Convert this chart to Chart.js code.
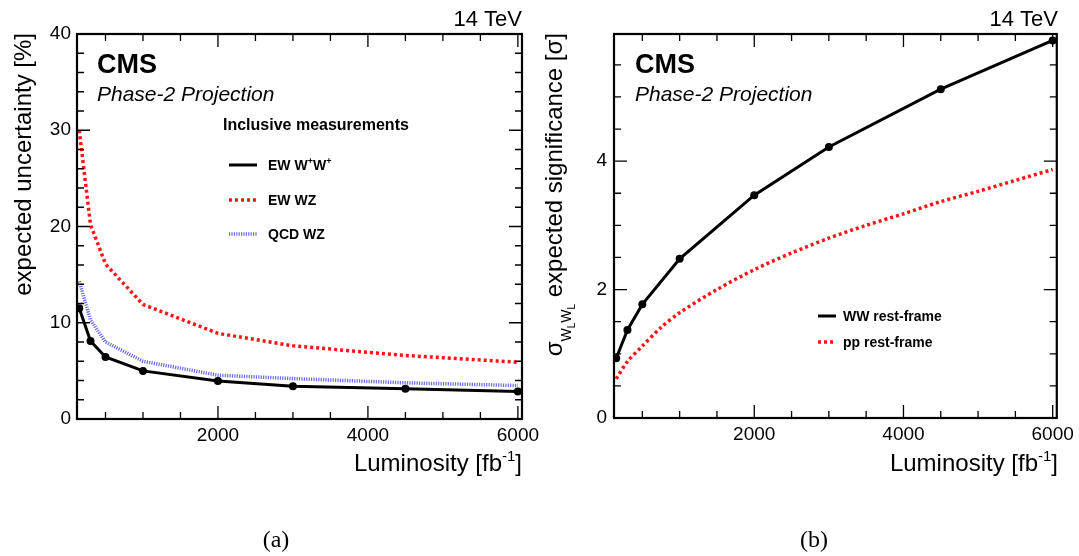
<!DOCTYPE html>
<html>
<head>
<meta charset="utf-8">
<script src="https://cdn.jsdelivr.net/npm/chart.js@4.4.0/dist/chart.umd.min.js"></script>
<style>
  body { margin: 0; background: #fff; }
  #wrap { position: relative; width: 1079px; height: 556px; }
  canvas { position: absolute; left: 0; top: 0; }
</style>
</head>
<body>
<div id="wrap">
  <canvas id="g1" width="1079" height="556"></canvas>
  <canvas id="g2" width="1079" height="556"></canvas>
</div>
<script>
// luminosity points [fb^-1]
var lumi = [150, 300, 500, 1000, 2000, 3000, 4500, 6000];

// (a) expected uncertainty [%]
var ewWpWp = [11.5, 8.1, 6.45, 5.0, 3.95, 3.4, 3.15, 2.85];
var ewWZ = [30.0, 20.2, 16.1, 11.9, 8.9, 7.6, 6.6, 5.9];
var qcdWZ = [14.3, 10.3, 8.0, 6.0, 4.55, 4.2, 3.76, 3.48];

// (b) expected significance [sigma]
var wwRest = [0.93, 1.37, 1.77, 2.48, 3.47, 4.22, 5.12, 5.88];
var ppLumi = [150, 300, 500, 750, 1000, 1500, 2000, 2500, 3000, 3500, 4000, 4500, 5000, 5500, 6000];
var ppRest = [0.61, 0.88, 1.12, 1.41, 1.64, 2.0, 2.31, 2.57, 2.8, 3.0, 3.18, 3.37, 3.53, 3.7, 3.87];

var xTicks = [2000, 4000, 6000];
var yTicksA = [0, 10, 20, 30, 40];
var yTicksB = [0, 2, 4];

var SANS = '"Liberation Sans", Arial, Helvetica, sans-serif';
var RED = 'rgb(255,20,20)';
var BLUE = 'rgb(105,105,235)';

function pts(xs, ys) {
  return xs.map(function (x, i) { return { x: x, y: ys[i] }; });
}

function txt(ctx, s, x, y, font, align, base) {
  ctx.font = font;
  ctx.textAlign = align || 'left';
  ctx.textBaseline = base || 'alphabetic';
  ctx.fillText(s, x, y);
}

// frame with inward ticks on all four sides, ROOT style
function drawFrame(chart, yMinor, yMajor) {
  var ctx = chart.ctx, a = chart.chartArea, xs = chart.scales.x, ys = chart.scales.y;
  ctx.save();
  ctx.strokeStyle = '#000';
  ctx.lineWidth = 1.3;
  ctx.beginPath();
  for (var v = 500; v < xs.max; v += 500) {
    var px = xs.getPixelForValue(v);
    var len = v % 2000 === 0 ? 13 : 7;
    ctx.moveTo(px, a.bottom); ctx.lineTo(px, a.bottom - len);
    ctx.moveTo(px, a.top); ctx.lineTo(px, a.top + len);
  }
  var n = Math.round(yMajor / yMinor);
  for (var i = 1; i * yMinor < ys.max - 1e-6; i++) {
    var py = ys.getPixelForValue(i * yMinor);
    var l = i % n === 0 ? 13 : 7;
    ctx.moveTo(a.left, py); ctx.lineTo(a.left + l, py);
    ctx.moveTo(a.right, py); ctx.lineTo(a.right - l, py);
  }
  ctx.stroke();
  ctx.lineWidth = 2.2;
  ctx.strokeRect(a.left, a.top, a.width, a.height);
  ctx.restore();
}

function legendLine(ctx, x0, x1, y, color, width, dash) {
  ctx.save();
  ctx.strokeStyle = color;
  ctx.lineWidth = width;
  ctx.setLineDash(dash);
  ctx.beginPath();
  ctx.moveTo(x0, y); ctx.lineTo(x1, y);
  ctx.stroke();
  ctx.restore();
}

function xTitle(ctx, right, base) {
  var big = '24px ' + SANS, small = '15px ' + SANS;
  ctx.font = big;
  var w1 = ctx.measureText('Luminosity [fb').width;
  var w3 = ctx.measureText(']').width;
  ctx.font = small;
  var w2 = ctx.measureText('-1').width;
  var x = right - w1 - w2 - w3;
  txt(ctx, 'Luminosity [fb', x, base, big);
  txt(ctx, '-1', x + w1, base - 10, small);
  txt(ctx, ']', x + w1 + w2, base, big);
}

function plain(v) { return String(v); }

function makeScales(ymax, yTicks, yWidth, yPad) {
  return {
    x: {
      type: 'linear', min: 120, max: 6055,
      grid: { display: false, drawTicks: false },
      border: { display: false },
      ticks: { font: { family: SANS, size: 19 }, color: '#000', padding: 5, maxRotation: 0, callback: plain },
      afterBuildTicks: function (s) { s.ticks = xTicks.map(function (v) { return { value: v }; }); },
      afterFit: function (s) { s.height = 40; }
    },
    y: {
      type: 'linear', min: 0, max: ymax,
      grid: { display: false, drawTicks: false },
      border: { display: false },
      ticks: { font: { family: SANS, size: 19 }, color: '#000', padding: yPad, callback: plain },
      afterBuildTicks: function (s) { s.ticks = yTicks.map(function (v) { return { value: v }; }); },
      afterFit: function (s) { s.width = yWidth; }
    }
  };
}

var common = {
  responsive: false,
  animation: false,
  devicePixelRatio: 1,
  plugins: { legend: { display: false }, tooltip: { enabled: false } }
};

var g1 = document.getElementById('g1').getContext('2d');
var myG1 = new Chart(g1, {
  type: 'line',
  data: {
    datasets: [{
      label: 'EW WZ',
      data: pts(lumi, ewWZ),
      borderColor: RED, borderWidth: 3.5, borderDash: [3, 3],
      pointRadius: 0, tension: 0
    }, {
      label: 'QCD WZ',
      data: pts(lumi, qcdWZ),
      borderColor: BLUE, borderWidth: 3.5, borderDash: [1.2, 1.2],
      pointRadius: 0, tension: 0
    }, {
      label: 'EW W+W+',
      data: pts(lumi, ewWpWp),
      borderColor: '#000', borderWidth: 3,
      pointRadius: 4, pointBackgroundColor: '#000', pointBorderWidth: 0, tension: 0
    }]
  },
  options: Object.assign({}, common, {
    layout: { padding: { left: 0, right: 1079 - 522, top: 34, bottom: 556 - 419 - 40 } },
    scales: makeScales(40, yTicksA, 77, 6)
  }),
  plugins: [{
    id: 'decorA',
    afterDatasetsDraw: function (chart) { drawFrame(chart, 2, 10); },
    afterDraw: function (chart) {
      var ctx = chart.ctx;
      ctx.save();
      ctx.fillStyle = '#000';
      txt(ctx, '14 TeV', 522, 26, '22px ' + SANS, 'right');
      txt(ctx, 'CMS', 97, 73, 'bold 27px ' + SANS);
      txt(ctx, 'Phase-2 Projection', 97, 101, 'italic 21px ' + SANS);
      txt(ctx, 'Inclusive measurements', 223, 130, 'bold 16px ' + SANS);

      legendLine(ctx, 229, 257, 165, '#000', 3, []);
      legendLine(ctx, 229, 257, 200, RED, 3.5, [3, 3]);
      legendLine(ctx, 229, 257, 234, BLUE, 3.5, [1.2, 1.2]);
      var f = 'bold 14px ' + SANS, fs = 'bold 9px ' + SANS;
      ctx.font = f;
      var wA = ctx.measureText('EW W').width;
      ctx.font = fs;
      var wP = ctx.measureText('+').width;
      txt(ctx, 'EW W', 268, 170, f);
      txt(ctx, '+', 268 + wA, 164, fs);
      txt(ctx, 'W', 268 + wA + wP, 170, f);
      ctx.font = f;
      var wW = ctx.measureText('W').width;
      txt(ctx, '+', 268 + wA + wP + wW, 164, fs);
      txt(ctx, 'EW WZ', 268, 205, f);
      txt(ctx, 'QCD WZ', 268, 239, f);

      xTitle(ctx, 522, 471);

      ctx.translate(31, 0);
      ctx.rotate(-Math.PI / 2);
      txt(ctx, 'expected uncertainty [%]', -33, 0, '24px ' + SANS, 'right');
      ctx.setTransform(1, 0, 0, 1, 0, 0);

      txt(ctx, '(a)', 276, 541, '24px "Liberation Serif", "Times New Roman", serif', 'center', 'middle');
      ctx.restore();
    }
  }]
});

var g2 = document.getElementById('g2').getContext('2d');
var myG2 = new Chart(g2, {
  type: 'line',
  data: {
    datasets: [{
      label: 'pp rest-frame',
      data: pts(ppLumi, ppRest),
      borderColor: RED, borderWidth: 3.5, borderDash: [3, 3],
      pointRadius: 0, tension: 0.3
    }, {
      label: 'WW rest-frame',
      data: pts(lumi, wwRest),
      borderColor: '#000', borderWidth: 3,
      pointRadius: 4, pointBackgroundColor: '#000', pointBorderWidth: 0, tension: 0
    }]
  },
  options: Object.assign({}, common, {
    layout: { padding: { left: 0, right: 1079 - 1059, top: 34, bottom: 556 - 418 - 40 } },
    scales: makeScales(5.98, yTicksB, 614, 7)
  }),
  plugins: [{
    id: 'decorB',
    afterDatasetsDraw: function (chart) { drawFrame(chart, 0.5, 2); },
    afterDraw: function (chart) {
      var ctx = chart.ctx;
      ctx.save();
      ctx.fillStyle = '#000';
      txt(ctx, '14 TeV', 1058, 26, '22px ' + SANS, 'right');
      txt(ctx, 'CMS', 635, 73, 'bold 27px ' + SANS);
      txt(ctx, 'Phase-2 Projection', 635, 101, 'italic 21px ' + SANS);

      legendLine(ctx, 818, 836, 316, '#000', 3, []);
      legendLine(ctx, 818, 836, 342, RED, 3.5, [3, 3]);
      txt(ctx, 'WW rest-frame', 843, 321, 'bold 14px ' + SANS);
      txt(ctx, 'pp rest-frame', 843, 347, 'bold 14px ' + SANS);

      xTitle(ctx, 1058, 471);

      // sigma_{W_L W_L} expected significance [sigma], rotated
      var big = '24px ' + SANS, mid = '14px ' + SANS, sm = '10px ' + SANS;
      var parts = [
        ['\u03c3', big, 0], ['W', mid, 9], ['L', sm, 13], ['W', mid, 9], ['L', sm, 13],
        [' expected significance [\u03c3]', big, 0]
      ];
      var total = 0;
      parts.forEach(function (p) { ctx.font = p[1]; p.push(ctx.measureText(p[0]).width); total += p[3]; });
      ctx.translate(562, 0);
      ctx.rotate(-Math.PI / 2);
      var u = -33 - total;
      parts.forEach(function (p) {
        txt(ctx, p[0], u, p[2], p[1]);
        u += p[3];
      });
      ctx.setTransform(1, 0, 0, 1, 0, 0);

      txt(ctx, '(b)', 814, 541, '24px "Liberation Serif", "Times New Roman", serif', 'center', 'middle');
      ctx.restore();
    }
  }]
});
</script>
</body>
</html>
